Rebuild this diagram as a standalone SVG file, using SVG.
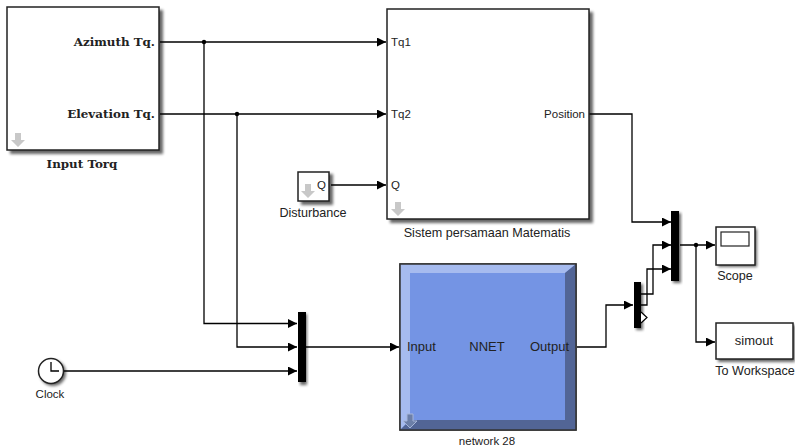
<svg xmlns="http://www.w3.org/2000/svg" width="795" height="448" viewBox="0 0 795 448">
<style>
.b{fill:#fff;stroke:#222;stroke-width:1.5}
.w{fill:none;stroke:#000;stroke-width:1.3;marker-end:url(#a)}
.n{fill:none;stroke:#000;stroke-width:1.3}
.t{font-family:"Liberation Sans",Arial,sans-serif;font-size:11.5px;fill:#222}
.l{font-size:12.6px}
.p{font-size:13px}
.s{font-family:"DejaVu Serif","Liberation Serif",serif;font-size:11.900px;font-weight:bold;fill:#222}
.e{text-anchor:end}.m{text-anchor:middle}
.sh{fill:#000;opacity:.6;filter:url(#bl)}
.d{fill:#000}
.ar{fill:#c8c8c8}
</style>
<defs>
<marker id="a" markerUnits="userSpaceOnUse" markerWidth="10" markerHeight="10" refX="9" refY="4.5" orient="auto"><path d="M0 0L9 4.5L0 9Z" fill="#000"/></marker>
<filter id="bl" x="-20%" y="-20%" width="140%" height="140%"><feGaussianBlur stdDeviation="1.800"/></filter>
<path id="da" d="M-3 -7H3V0H7L0 7L-7 0H-3Z"/>
</defs>
<rect width="795" height="448" fill="#fff"/>
<g id="connectors">
<path class="w" d="M160 42H386"/>
<path class="w" d="M160 114H386"/>
<path class="w" d="M331 185H386"/>
<path class="w" d="M204 42V323.500H297"/>
<path class="w" d="M237 114V347H297"/>
<path class="w" d="M64 371H297"/>
<path class="w" d="M306 347H399"/>
<path class="w" d="M577 347H606V305H633"/>
<path class="w" d="M589 114H632V222H671"/>
<path class="w" d="M641 294H653V245H671"/>
<path class="w" d="M641 305H647V269H671"/>
<path class="w" d="M680 245H715"/>
<path class="w" d="M696 245V342H715"/>
<circle class="d" cx="204" cy="42" r="2.200"/>
<circle class="d" cx="237" cy="114" r="2.200"/>
<circle class="d" cx="696" cy="245" r="2.200"/>
</g>
<g id="input-torq">
<rect class="sh" x="10" y="10" width="153" height="144"/>
<rect class="b" x="7" y="7" width="152" height="143"/>
<use href="#da" class="ar" x="18" y="140"/>
<text class="s e" x="155" y="46">Azimuth Tq.</text>
<text class="s e" x="155" y="118">Elevation Tq.</text>
<text class="s m" x="82" y="168">Input Torq</text>
</g>
<g id="sistem">
<rect class="sh" x="390" y="12" width="203" height="211"/>
<rect class="b" x="387" y="9" width="202" height="210"/>
<use href="#da" class="ar" x="398" y="209"/>
<text class="t" x="391" y="46">Tq1</text>
<text class="t" x="391" y="118">Tq2</text>
<text class="t" x="391" y="189">Q</text>
<text class="t e" x="585" y="118">Position</text>
<text class="t l m" x="487" y="237">Sistem persamaan Matematis</text>
</g>
<g id="disturbance">
<rect class="sh" x="301" y="174" width="32" height="31"/>
<rect class="b" x="298" y="172" width="31" height="29"/>
<use href="#da" class="ar" x="308" y="191"/>
<text class="t" x="317" y="189">Q</text>
<text class="t l m" x="313" y="217">Disturbance</text>
</g>
<g id="mux1">
<rect class="sh" x="300" y="314" width="7" height="71"/>
<rect x="298" y="312" width="8" height="70" fill="#000"/>
</g>
<g id="clock">
<circle class="sh" cx="53" cy="373" r="13"/>
<circle cx="51" cy="371" r="12.500" fill="#fff" stroke="#222" stroke-width="1.500"/>
<path class="n" d="M51 362V371H59"/>
<text class="t m" x="50" y="398">Clock</text>
</g>
<g id="nnet">
<rect x="400" y="264" width="176" height="166" fill="#7494e4" stroke="#333" stroke-width="1.500"/>
<path d="M400 264H576L565 273H410V420L400 430Z" fill="#a6bbef"/>
<path d="M576 264V430H400L410 420H565V273Z" fill="#526596"/>
<rect x="400" y="264" width="176" height="166" fill="none" stroke="#333" stroke-width="1.500"/>
<use href="#da" fill="#6c7fa8" stroke="#a6b5d8" x="410" y="421"/>
<text class="t p" x="407" y="351">Input</text>
<text class="t p m" x="487" y="351">NNET</text>
<text class="t p e" x="569" y="351">Output</text>
<text class="t m" x="487" y="445">network 28</text>
</g>
<g id="mux2">
<rect class="sh" x="636" y="284" width="7" height="46"/>
<rect x="634" y="282" width="7" height="46" fill="#000"/>
<path d="M641 312L647 317.500L641 323" fill="#fff" stroke="#000" stroke-width="1.200"/>
</g>
<g id="mux3">
<rect class="sh" x="673" y="213" width="8" height="70"/>
<rect x="671" y="211" width="8" height="70" fill="#000"/>
</g>
<g id="scope">
<rect class="sh" x="718" y="229" width="39" height="38"/>
<rect class="b" x="716" y="227" width="39" height="38"/>
<rect x="721" y="232" width="28" height="14" fill="#fff" stroke="#222" stroke-width="1.200"/>
<text class="t l m" x="735" y="280">Scope</text>
</g>
<g id="simout">
<rect class="sh" x="718" y="325" width="77" height="37"/>
<rect class="b" x="716" y="323" width="77" height="36"/>
<text class="t p m" x="754" y="345">simout</text>
<text class="t l m" x="755" y="375">To Workspace</text>
</g>
</svg>
